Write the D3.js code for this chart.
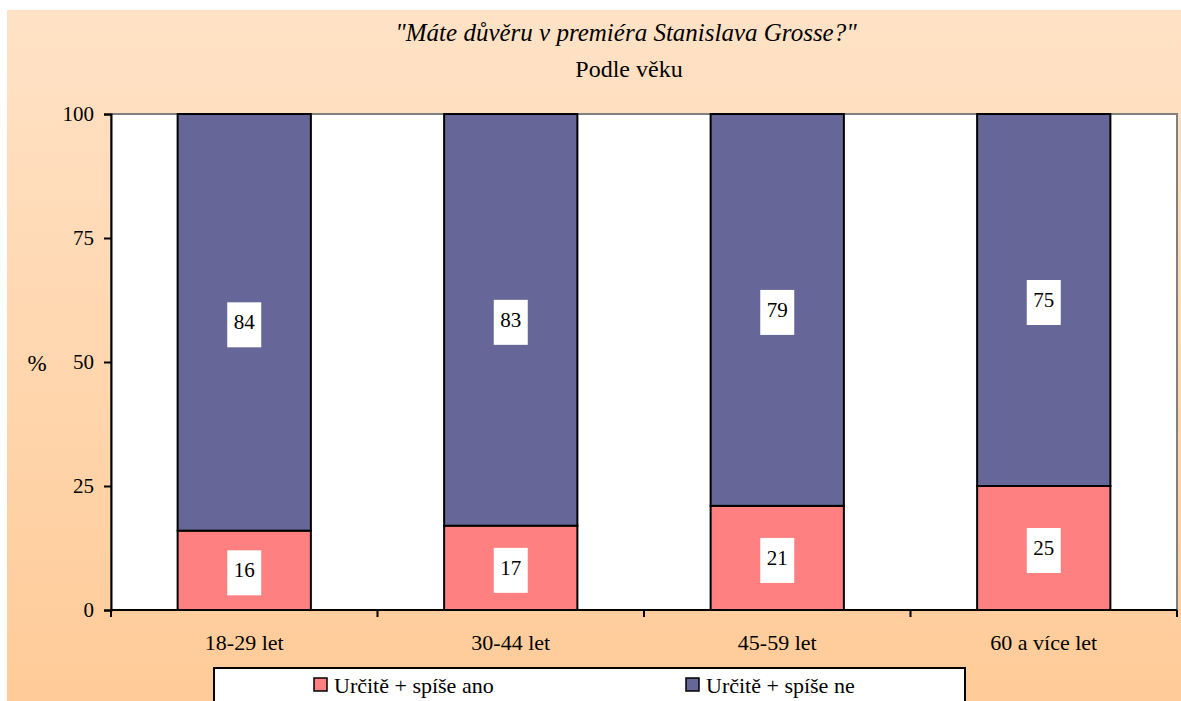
<!doctype html>
<html>
<head>
<meta charset="utf-8">
<title>Důvěra v premiéra podle věku</title>
<style>
  body { margin: 0; background: #fff; }
  svg text { font-family: "Liberation Serif", Tinos, "Times New Roman", Times, "Liberation Sans", serif; fill: #000; }
</style>
</head>
<body>
<script src="https://d3js.org/d3.v7.min.js"></script>
<script>
// data
var categories = ["18-29 let", "30-44 let", "45-59 let", "60 a více let"];
var seriesNames = ["Určitě + spíše ano", "Určitě + spíše ne"];
var ano = [16, 17, 21, 25];
var ne = [84, 83, 79, 75];
var yTicks = [0, 25, 50, 75, 100];
var colors = ["#FF8080", "#666699"];

var w = 1181, h = 701;
var plot = { left: 111, top: 114, right: 1177, bottom: 610 };

var svg = d3.select("body").append("svg")
    .attr("width", w)
    .attr("height", h);

// background gradient
var grad = svg.append("defs").append("linearGradient")
    .attr("id", "bg")
    .attr("x1", 0).attr("y1", 0).attr("x2", 0).attr("y2", 1);
grad.append("stop").attr("offset", "0%").attr("stop-color", "#FFE2C6");
grad.append("stop").attr("offset", "100%").attr("stop-color", "#FFCB98");

svg.append("rect")
    .attr("x", 7).attr("y", 10)
    .attr("width", w - 7).attr("height", h - 10)
    .attr("fill", "url(#bg)");

// scales
var x = d3.scaleBand()
    .domain(categories)
    .range([plot.left, plot.right])
    .paddingInner(0.5)
    .paddingOuter(0.25);

var y = d3.scaleLinear()
    .domain([0, 100])
    .range([plot.bottom, plot.top]);

// plot area
svg.append("rect")
    .attr("x", plot.left).attr("y", plot.top)
    .attr("width", plot.right - plot.left)
    .attr("height", plot.bottom - plot.top)
    .attr("fill", "#fff")
    .attr("stroke", "#808080")
    .attr("stroke-width", 2);

// stacked data
var rows = categories.map(function (c, i) {
    return { cat: c, ano: ano[i], ne: ne[i] };
});
var stack = d3.stack().keys(["ano", "ne"])(rows);

var layers = svg.selectAll("g.layer")
    .data(stack)
    .enter().append("g")
    .attr("class", "layer")
    .attr("fill", function (d, i) { return colors[i]; });

layers.selectAll("rect")
    .data(function (d) { return d; })
    .enter().append("rect")
    .attr("x", function (d) { return x(d.data.cat); })
    .attr("y", function (d) { return y(d[1]); })
    .attr("width", x.bandwidth())
    .attr("height", function (d) { return y(d[0]) - y(d[1]); })
    .attr("stroke", "#000")
    .attr("stroke-width", 2);

// value labels with white boxes
var labels = layers.selectAll("g.lbl")
    .data(function (d) { return d; })
    .enter().append("g")
    .attr("class", "lbl")
    .attr("transform", function (d) {
        var cx = x(d.data.cat) + x.bandwidth() / 2;
        var cy = (y(d[0]) + y(d[1])) / 2 + 2;
        return "translate(" + cx + "," + cy + ")";
    });
labels.append("rect")
    .attr("x", -17).attr("y", -22)
    .attr("width", 34).attr("height", 45)
    .attr("fill", "#fff");
labels.append("text")
    .attr("text-anchor", "middle")
    .attr("y", 5)
    .style("font-size", "21px")
    .text(function (d) { return d[1] - d[0]; });

// y axis
var yAxis = svg.append("g")
    .attr("transform", "translate(" + plot.left + ",0)")
    .call(d3.axisLeft(y).tickValues(yTicks).tickSize(7).tickPadding(10));
yAxis.attr("font-family", null);
yAxis.select(".domain").attr("stroke", "#000").attr("stroke-width", 2);
yAxis.selectAll(".tick line").attr("stroke", "#000").attr("stroke-width", 2);
yAxis.selectAll(".tick text")
    .style("font-size", "21px");

// x axis
var xBounds = d3.range(categories.length + 1).map(function (i) {
    return plot.left + i * x.step();
});
var xAxisG = svg.append("g");
xAxisG.append("line")
    .attr("x1", plot.left).attr("x2", plot.right)
    .attr("y1", plot.bottom).attr("y2", plot.bottom)
    .attr("stroke", "#000").attr("stroke-width", 2);
xAxisG.selectAll("line.tk")
    .data(xBounds)
    .enter().append("line")
    .attr("class", "tk")
    .attr("x1", function (d) { return d; }).attr("x2", function (d) { return d; })
    .attr("y1", plot.bottom).attr("y2", plot.bottom + 7)
    .attr("stroke", "#000").attr("stroke-width", 2);
xAxisG.selectAll("text")
    .data(categories)
    .enter().append("text")
    .attr("x", function (d) { return x(d) + x.bandwidth() / 2; })
    .attr("y", 650)
    .attr("text-anchor", "middle")
    .style("font-size", "22px")
    .text(function (d) { return d; });

// y title
svg.append("text")
    .attr("x", 37).attr("y", 371)
    .attr("text-anchor", "middle")
    .style("font-size", "23px")
    .text("%");

// title
svg.append("text")
    .attr("x", 626).attr("y", 41)
    .attr("text-anchor", "middle")
    .style("font-size", "25px")
    .style("font-style", "italic")
    .text("\"Máte důvěru v premiéra Stanislava Grosse?\"");
svg.append("text")
    .attr("x", 629).attr("y", 77)
    .attr("text-anchor", "middle")
    .style("font-size", "24px")
    .text("Podle věku");

// legend
var legend = svg.append("g");
legend.append("rect")
    .attr("x", 214).attr("y", 668)
    .attr("width", 751).attr("height", 40)
    .attr("fill", "#fff")
    .attr("stroke", "#000")
    .attr("stroke-width", 2);
var legX = [314, 686];
var items = legend.selectAll("g.item")
    .data(seriesNames)
    .enter().append("g")
    .attr("class", "item")
    .attr("transform", function (d, i) { return "translate(" + legX[i] + ",678)"; });
items.append("rect")
    .attr("width", 13).attr("height", 13)
    .attr("fill", function (d, i) { return colors[i]; })
    .attr("stroke", "#000")
    .attr("stroke-width", 1.5);
items.append("text")
    .attr("x", 20).attr("y", 15)
    .style("font-size", "22px")
    .text(function (d) { return d; });
</script>
</body>
</html>
